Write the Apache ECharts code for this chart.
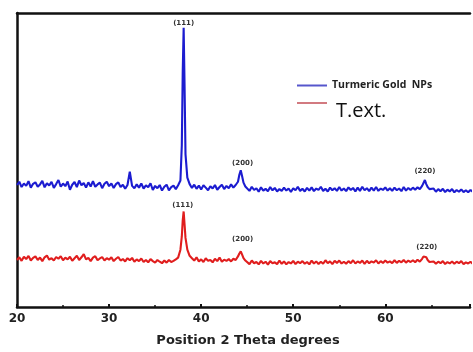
<!DOCTYPE html>
<html><head><meta charset="utf-8">
<script src="https://cdn.jsdelivr.net/npm/echarts@6/dist/echarts.min.js"></script>
<style>html,body{margin:0;padding:0;background:#fff}#c{width:473px;height:352px}</style>
</head><body><div id="c"></div>
<script>
const twoTheta = [
20,20.25,20.5,20.75,21,21.25,21.5,21.75,22,22.25,22.5,22.75,23,23.25,23.5,23.75,24,24.25,24.5,24.75,
25,25.25,25.5,25.75,26,26.25,26.5,26.75,27,27.25,27.5,27.75,28,28.25,28.5,28.75,29,29.25,29.5,29.75,
30,30.25,30.5,30.75,31,31.25,31.5,31.75,32,32.25,32.5,32.75,33,33.25,33.5,33.75,34,34.25,34.5,34.75,
35,35.25,35.5,35.75,36,36.25,36.5,36.75,37,37.25,37.5,
37.75,37.9,38,38.1,38.2,38.3,38.5,38.75,
39,39.25,39.5,39.75,40,40.25,40.5,40.75,41,41.25,41.5,41.75,42,42.25,42.5,42.75,43,43.25,43.5,43.75,44,
44.15,44.3,44.45,44.6,44.8,
45,45.25,45.5,45.75,46,46.25,46.5,46.75,47,47.25,47.5,47.75,48,48.25,48.5,48.75,49,49.25,49.5,49.75,
50,50.25,50.5,50.75,51,51.25,51.5,51.75,52,52.25,52.5,52.75,53,53.25,53.5,53.75,54,54.25,54.5,54.75,
55,55.25,55.5,55.75,56,56.25,56.5,56.75,57,57.25,57.5,57.75,58,58.25,58.5,58.75,59,59.25,59.5,59.75,
60,60.25,60.5,60.75,61,61.25,61.5,61.75,62,62.25,62.5,62.75,63,63.25,63.5,63.75,64,
64.15,64.3,64.45,64.6,64.8,
65,65.25,65.5,65.75,66,66.25,66.5,66.75,67,67.25,67.5,67.75,68,68.25,68.5,68.75,69,69.25,69.5];
const goldNPs = [
41.5,42.6,40.8,42.0, 41.2,42.8,40.6,41.9, 42.4,40.9,41.7,42.9, 40.7,42.1,41.3,42.6, 40.5,41.8,43.2,40.9,
42.0,41.1,42.7,39.9, 41.6,42.5,40.8,43.0, 41.4,42.2,40.6,42.4, 41.0,42.8,40.9,41.7, 42.3,40.4,41.9,42.6,
41.1,42.0,40.5,41.8, 42.4,40.8,41.6,40.2, 41.5,46.0,41.2,40.4, 41.7,40.6,42.0,40.3, 41.4,40.7,42.1,39.8,
41.2,40.4,41.5,39.6, 40.9,41.6,39.7,40.8, 41.3,40.1,41.4,
43,55,80,95,75,52,44,41.8,
40.5,41.6,40.2,41.3, 40.0,41.4,40.6,39.7, 41.1,40.3,41.5,39.9, 40.8,41.6,40.1,41.2, 40.4,41.7,40.6,41.5, 42.6,
45.0,46.5,44.5,42.3,41.0,
40.6,39.5,40.9,39.8, 40.4,39.2,40.7,39.6, 40.2,39.4,40.8,39.7, 40.5,39.3,40.1,39.5, 40.6,39.6,40.3,39.1,
40.4,39.7,40.9,39.5, 40.2,39.3,40.5,39.6, 40.7,39.4,40.3,39.8, 40.9,39.5,40.2,39.3, 40.6,39.7,40.4,39.5,
40.8,39.6,40.3,39.4, 40.7,39.8,40.5,39.3, 40.6,39.5,40.9,39.7, 40.4,39.4,40.6,39.6, 40.8,39.5,40.3,39.8,
40.7,39.6,40.4,39.5, 40.6,39.7,40.3,39.4, 40.8,39.6,40.5,39.8, 40.6,39.9,40.7,40.1, 41.2,
42.2,43.2,41.8,40.8,40.1,
39.5,40.3,39.2,40.1, 39.4,40.2,39.1,39.9, 39.3,40.1,39.0,39.8, 39.2,40.0,39.1,39.7, 39.0,39.8,39.2];
const textExt = [
16.0,16.9,15.7,17.1, 16.3,17.4,15.8,16.7, 17.2,16.0,16.8,15.6, 16.9,17.5,16.1,16.6, 15.8,17.0,16.4,17.3,
15.9,16.8,16.2,17.1, 15.7,16.6,17.4,16.0, 16.9,18.0,16.2,16.7, 15.6,16.8,17.3,15.9, 16.5,17.0,15.8,16.6,
16.1,16.9,15.6,16.4, 17.0,15.8,16.3,15.5, 16.6,15.9,16.7,15.4, 16.2,15.6,16.5,15.3, 16.0,15.2,16.3,15.6,
15.1,16.0,15.4,14.9, 15.8,15.1,16.0,15.3, 15.7,16.2,16.8,
19.5,24,29.5,32.5,28,23.5,19.5,17.4,
16.6,15.8,16.9,15.5, 16.2,15.3,16.6,15.7, 16.0,15.2,16.4,15.6, 16.8,15.4,16.1,15.7, 16.3,15.5,16.4,16.0, 17.2,
18.2,18.9,17.8,16.6,15.8,
15.5,14.6,15.8,14.9, 15.3,14.5,15.7,14.8, 15.4,14.4,15.6,14.9, 15.2,14.6,15.8,14.7, 15.5,14.5,15.3,14.8,
15.7,14.6,15.4,14.9, 15.6,14.7,15.3,14.5, 15.8,14.8,15.5,14.6, 15.4,14.7,15.9,14.9, 15.5,14.6,15.7,15.0,
15.8,14.8,15.4,14.7, 15.6,14.9,15.9,14.8, 15.5,15.0,15.8,14.7, 15.7,14.9,15.5,15.1, 15.9,14.8,15.6,15.0,
15.8,15.1,15.5,14.9, 15.9,15.0,15.7,15.2, 16.0,15.1,15.8,15.3, 15.9,15.2,16.1,15.4, 16.4,
17.2,17.7,16.9,16.0,15.3,
14.8,15.5,14.7,15.4, 14.9,15.6,14.6,15.3, 14.8,15.5,14.7,15.4, 14.9,15.6,14.6,15.2, 14.8,15.4,14.7];
const peakNames = ['(111)','(200)','(220)'];
const goldPeakPos = [[38.1,96.5],[44.5,48.8],[64.3,46.2]];
const extPeakPos = [[38.0,34.8],[44.5,23.2],[64.5,20.5]];
const seriesNames = ['Turmeric Gold  NPs','T.ext.'];
const xTicks = [20,30,40,50,60];

const pair = ys => twoTheta.map((x,i)=>[x,ys[i]]);
const marks = pos => ({
  symbol:'circle', symbolSize:0, silent:true,
  label:{show:true, position:'inside', formatter:p=>p.name, fontSize:7, fontWeight:'bold', color:'#333', fontFamily:'DejaVu Sans'},
  data: pos.map((c,i)=>({name:peakNames[i], coord:c}))
});
const chart = echarts.init(document.getElementById('c'));
chart.setOption({
  animation:false,
  backgroundColor:'#fff',
  grid:{left:17, right:3, top:13, bottom:40},
  legend:{
    data:[{name:seriesNames[0], itemStyle:{color:'#5656cc'}},{name:seriesNames[1], itemStyle:{color:'#d27a80'}}],
    orient:'vertical', left:292, top:75, itemWidth:30, itemHeight:2, itemGap:-6, icon:'rect',
    formatter:n=> n===seriesNames[0] ? '{a|'+n+'}' : '{b|'+n+'}',
    textStyle:{rich:{
      a:{fontFamily:'Open Sans', fontWeight:'bold', fontSize:10.5, color:'#222', lineHeight:12},
      b:{fontFamily:'Open Sans', fontSize:20, color:'#111', lineHeight:20, padding:[16,0,0,4]}
    }}
  },
  xAxis:[{
    type:'value', min:20, max:69.2, interval:10,
    axisLine:{lineStyle:{color:'#111', width:2.5}},
    axisTick:{inside:true, length:3, lineStyle:{color:'#111', width:2}},
    minorTick:{show:true, splitNumber:2, length:2, lineStyle:{color:'#111', width:1.5}},
    splitLine:{show:false},
    axisLabel:{showMaxLabel:false, formatter:v=> xTicks.includes(v)? String(v):'', fontFamily:'DejaVu Sans', fontWeight:'bold', fontSize:12, color:'#222', margin:6},
    name:'Position 2 Theta degrees', nameLocation:'middle', nameGap:27,
    nameTextStyle:{fontFamily:'DejaVu Sans', fontWeight:'bold', fontSize:13, color:'#222', padding:[0,0,0,9]}
  },{
    type:'value', position:'top', min:20, max:69.2,
    axisLine:{show:true, lineStyle:{color:'#111', width:2.5}},
    axisTick:{show:false}, axisLabel:{show:false}, splitLine:{show:false}
  }],
  yAxis:{
    type:'value', min:0, max:100,
    axisLine:{show:true, lineStyle:{color:'#111', width:2.5}},
    axisTick:{show:false}, axisLabel:{show:false}, splitLine:{show:false}
  },
  series:[
    {name:seriesNames[0], type:'line', data:pair(goldNPs), showSymbol:false, symbol:'none',
     lineStyle:{color:'#1c1cd0', width:2.1}, itemStyle:{color:'#1c1cd0'}, markPoint:marks(goldPeakPos)},
    {name:seriesNames[1], type:'line', data:pair(textExt), showSymbol:false, symbol:'none',
     lineStyle:{color:'#e01e1e', width:2.1}, itemStyle:{color:'#e01e1e'}, markPoint:marks(extPeakPos)}
  ]
});
</script></body></html>
